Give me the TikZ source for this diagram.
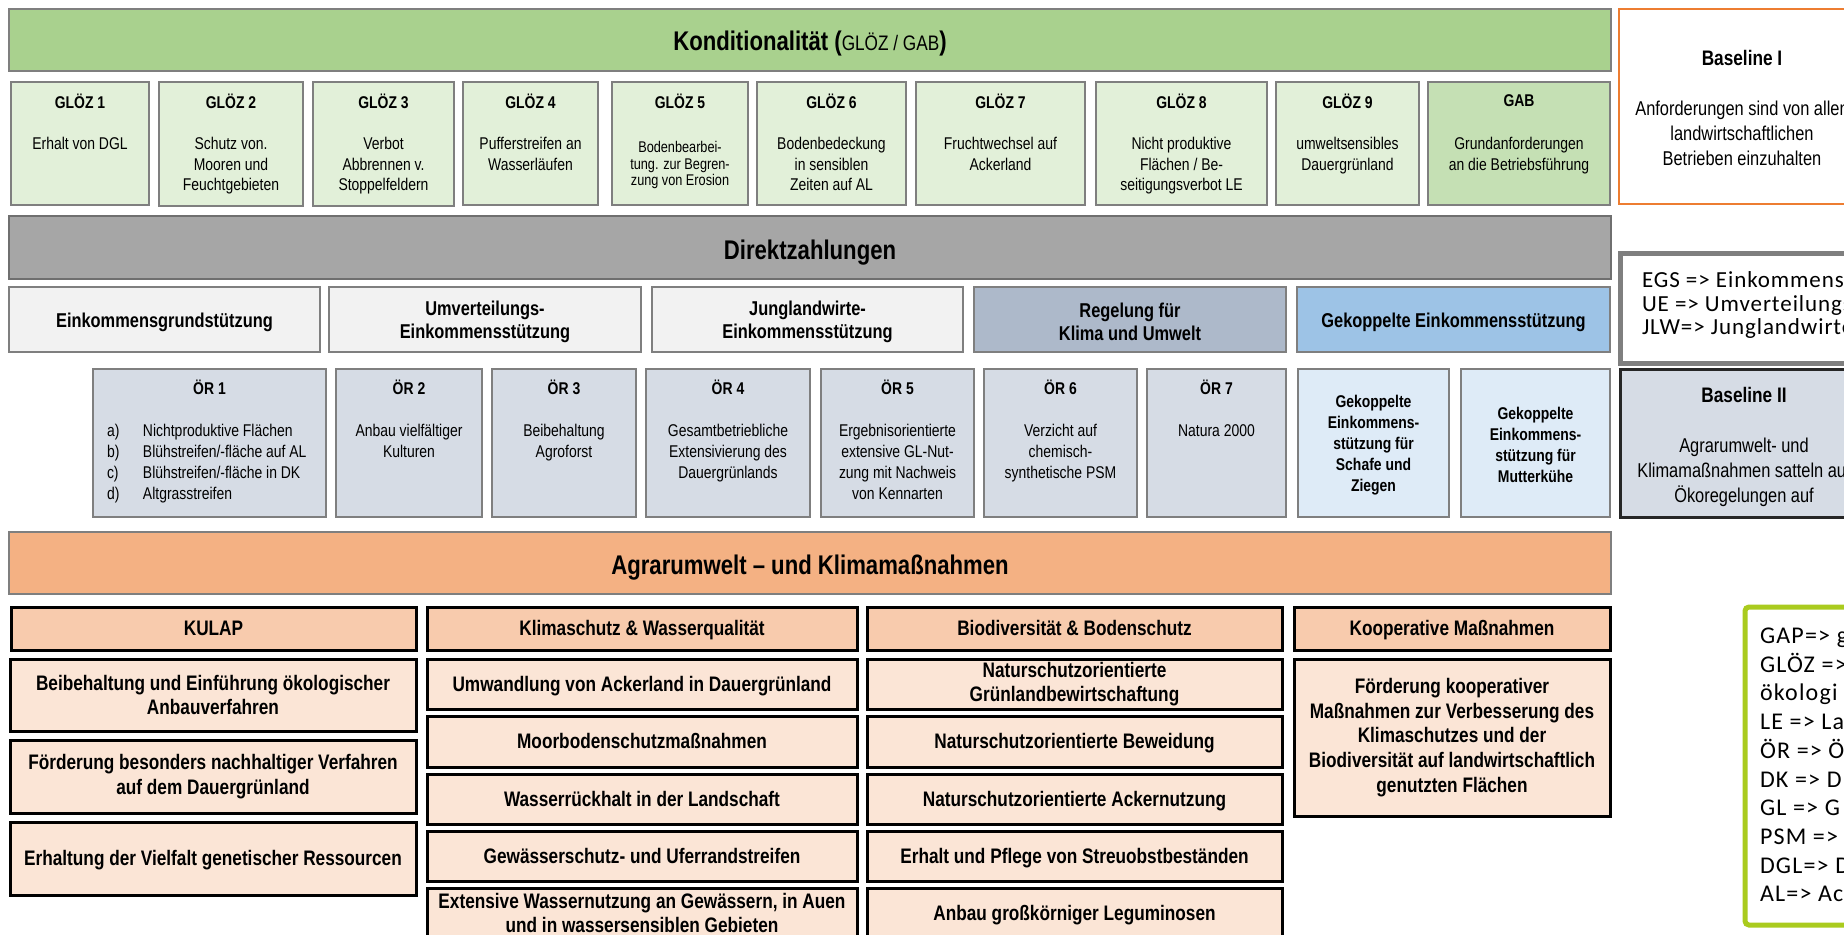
\documentclass[tikz,border=0pt]{standalone}
\usepackage{fontspec}
\setmainfont{Liberation Sans}[FakeStretch=0.82]
\newfontfamily\legfont{Carlito}[LetterSpace=4]
\newfontfamily\legfontB{Carlito}[LetterSpace=5]
\usetikzlibrary{fit}
\definecolor{cgray}{HTML}{7F7F7F}
\definecolor{cgraydark}{HTML}{6F6F6F}
\definecolor{ckond}{HTML}{A9D18E}
\definecolor{cgloz}{HTML}{E2F0D9}
\definecolor{cgab}{HTML}{C5E0B4}
\definecolor{cdz}{HTML}{A6A6A6}
\definecolor{clight}{HTML}{F2F2F2}
\definecolor{cklima}{HTML}{ADB9CA}
\definecolor{cgekrow}{HTML}{9DC3E6}
\definecolor{cor}{HTML}{D6DCE5}
\definecolor{cgek}{HTML}{DEEBF7}
\definecolor{cagrar}{HTML}{F4B183}
\definecolor{chead}{HTML}{F8CBAD}
\definecolor{citem}{HTML}{FBE5D6}
\definecolor{corange}{HTML}{ED7D31}
\definecolor{cdark}{HTML}{262626}
\definecolor{clime}{HTML}{AACB1E}
\newcommand\myBody{\fontsize{8.5}{10.4}\selectfont}
\newcommand\myBodyB{\bfseries\fontsize{8.5}{10.5}\selectfont}
\newcommand\mySmall{\fontsize{7.75}{8.2}\selectfont}
\newcommand\myBig{\bfseries\fontsize{13.5}{16}\selectfont}
\newcommand\myRow{\bfseries\fontsize{10}{11.5}\selectfont}
\newcommand\myAu{\bfseries\fontsize{10.5}{12.3}\selectfont}
\newcommand\myBase{\fontsize{10}{12.5}\selectfont}
\newcommand\myBaseT{\bfseries\fontsize{10.5}{12}\selectfont}
\newcommand\myLeg{\legfont\fontsize{11.5}{11.75}\selectfont}
\newcommand\myLegB{\legfontB\fontsize{12}{14.35}\selectfont}
\newcommand\bx[6]{\node[#1, fit={(#3,#4)(#5,#6)}] (#2) {};}
\begin{document}
\begin{tikzpicture}[x=0.5pt,y=-0.5pt,
  bar/.style={rectangle, inner sep=0pt, outer sep=0pt, draw=cgray, line width=1.25pt},
  kondbar/.style={bar, fill=ckond},
  glbox/.style={bar, fill=cgloz},
  gabbox/.style={bar, fill=cgab},
  dzbar/.style={bar, fill=cdz, draw=cgraydark},
  lightbox/.style={bar, fill=clight},
  klimabox/.style={bar, fill=cklima},
  gekrow/.style={bar, fill=cgekrow},
  orbox/.style={bar, fill=cor},
  gekbox/.style={bar, fill=cgek},
  agbar/.style={bar, fill=cagrar},
  hdbox/.style={bar, draw=black, line width=1.5pt, fill=chead},
  itbox/.style={bar, draw=black, line width=1.5pt, fill=citem},
  baseIbox/.style={bar, draw=corange, line width=1.25pt, fill=white},
  egsbox/.style={bar, draw=cgray, line width=2.5pt, fill=white},
  baseIIbox/.style={bar, draw=cdark, line width=1.5pt, fill=cor},
  legbox/.style={bar, draw=clime, line width=2.5pt, fill=white, rounded corners=2pt},
  txt/.style={inner sep=0pt, outer sep=0pt, align=center, text=black},
  one/.style={text height=7.9pt, text depth=0.5pt},
  title/.style={txt, font=\myBodyB},
  body/.style={txt, anchor=north, font=\myBody}
]
\useasboundingbox (0,0) rectangle (1844,934);
\clip (0,0) rectangle (1844,934);
\fill[white] (0,0) rectangle (1844,934);

% ---------------- Konditionalitaet ----------------
\bx{kondbar}{kond}{9}{9}{1611}{71}
\node[txt, font=\myBig] (kondt) at (810,44) {Konditionalität ({\mdseries\fontsize{10.5}{12}\selectfont GLÖZ / GAB})};

\bx{glbox}{g1}{11}{82}{149}{205}
\bx{glbox}{g2}{159}{82}{303}{206}
\bx{glbox}{g3}{313}{82}{454}{206}
\bx{glbox}{g4}{463}{82}{598}{205}
\bx{glbox}{g5}{612}{82}{748}{205}
\bx{glbox}{g6}{757}{82}{906}{205}
\bx{glbox}{g7}{916}{82}{1085}{205}
\bx{glbox}{g8}{1096}{82}{1267}{205}
\bx{glbox}{g9}{1276}{82}{1419}{205}
\bx{gabbox}{gab}{1428}{82}{1610}{205}

\node[title] (g1t) at (80,101) {GLÖZ 1};
\node[title] (g2t) at (231,101) {GLÖZ 2};
\node[title] (g3t) at (383.5,101) {GLÖZ 3};
\node[title] (g4t) at (530.5,101) {GLÖZ 4};
\node[title] (g5t) at (680,101) {GLÖZ 5};
\node[title] (g6t) at (831.5,101) {GLÖZ 6};
\node[title] (g7t) at (1000.5,101) {GLÖZ 7};
\node[title] (g8t) at (1181.5,101) {GLÖZ 8};
\node[title] (g9t) at (1347.5,101) {GLÖZ 9};
\node[title] (gabt) at (1519,101) {GAB};

\node[body] (g1b) at (80,137) {Erhalt von DGL};
\node[body] (g2b) at (231,137) {Schutz von.\\Mooren und\\Feuchtgebieten};
\node[body] (g3b) at (383.5,137) {Verbot\\Abbrennen v.\\Stoppelfeldern};
\node[body] (g4b) at (530.5,137) {Pufferstreifen an\\Wasserläufen};
\node[body, font=\mySmall] (g5b) at (680,141.5) {Bodenbearbei-\\tung. zur Begren-\\zung von Erosion};
\node[body] (g6b) at (831.5,137) {Bodenbedeckung\\in sensiblen\\Zeiten auf AL};
\node[body] (g7b) at (1000.5,137) {Fruchtwechsel auf\\Ackerland};
\node[body] (g8b) at (1181.5,137) {Nicht produktive\\Flächen / Be-\\seitigungsverbot LE};
\node[body] (g9b) at (1347.5,137) {umweltsensibles\\Dauergrünland};
\node[body] (gabb) at (1519,137) {Grundanforderungen\\an die Betriebsführung};

\bx{baseIbox}{base1}{1619}{9}{1866}{204}
\node[txt, font=\myBaseT] (base1t) at (1742,58) {Baseline I};
\node[txt, anchor=north, font=\myBase] (base1b) at (1742,100.5) {Anforderungen sind von allen\\landwirtschaftlichen\\Betrieben einzuhalten};

% ---------------- Direktzahlungen ----------------
\bx{dzbar}{dz}{9}{216}{1611}{279}
\node[txt, font=\myBig] (dzt) at (810,252.5) {Direktzahlungen};

\bx{lightbox}{egs}{9}{287}{320}{352}
\bx{lightbox}{ue}{329}{287}{641}{352}
\bx{lightbox}{jlw}{652}{287}{963}{352}
\bx{klimabox}{rku}{974}{287}{1286}{352}
\bx{gekrow}{gek}{1297}{287}{1610}{352}
\node[txt, font=\myRow] (egst) at (164.5,322) {Einkommensgrundstützung};
\node[txt, font=\myRow] (uet) at (485,322) {Umverteilungs-\\Einkommensstützung};
\node[txt, font=\myRow] (jlwt) at (807.5,322) {Junglandwirte-\\Einkommensstützung};
\node[txt, font=\myRow] (rkut) at (1130,322) {Regelung für\\Klima und Umwelt};
\node[txt, font=\myRow] (gekt) at (1453.5,322.5) {Gekoppelte Einkommensstützung};

\bx{egsbox}{abk1}{1620}{253}{1870}{363}
\node[txt, anchor=north west, align=left, font=\myLeg] (abk1t) at (1642,272) {EGS => Einkommens\\UE => Umverteilungs\\JLW=> Junglandwirte};

% ---------------- Oekoregelungen ----------------
\bx{orbox}{or1}{93}{369}{326}{517}
\bx{orbox}{or2}{336}{369}{482}{517}
\bx{orbox}{or3}{492}{369}{636}{517}
\bx{orbox}{or4}{646}{369}{810}{517}
\bx{orbox}{or5}{821}{369}{974}{517}
\bx{orbox}{or6}{984}{369}{1137}{517}
\bx{orbox}{or7}{1147}{369}{1286}{517}
\bx{gekbox}{gk1}{1298}{369}{1449}{517}
\bx{gekbox}{gk2}{1461}{369}{1610}{517}

\node[title] (or1t) at (209.5,387) {ÖR 1};
\node[title] (or2t) at (409,387) {ÖR 2};
\node[title] (or3t) at (564,387) {ÖR 3};
\node[title] (or4t) at (728,387) {ÖR 4};
\node[title] (or5t) at (897.5,387) {ÖR 5};
\node[title] (or6t) at (1060.5,387) {ÖR 6};
\node[title] (or7t) at (1216.5,387) {ÖR 7};

\node[body, anchor=north west, align=left] (or1b) at (107,424.5) {\makebox[18pt][l]{a)}Nichtproduktive Flächen\\\makebox[18pt][l]{b)}Blühstreifen/-fläche auf AL\\\makebox[18pt][l]{c)}Blühstreifen/-fläche in DK\\\makebox[18pt][l]{d)}Altgrasstreifen};
\node[body] (or2b) at (409,424.5) {Anbau vielfältiger\\Kulturen};
\node[body] (or3b) at (564,424.5) {Beibehaltung\\Agroforst};
\node[body] (or4b) at (728,424.5) {Gesamtbetriebliche\\Extensivierung des\\Dauergrünlands};
\node[body] (or5b) at (897.5,424.5) {Ergebnisorientierte\\extensive GL-Nut-\\zung mit Nachweis\\von Kennarten};
\node[body] (or6b) at (1060.5,424.5) {Verzicht auf\\chemisch-\\synthetische PSM};
\node[body] (or7b) at (1216.5,424.5) {Natura 2000};
\node[txt, font=\myBodyB] (gk1t) at (1373.5,445) {Gekoppelte\\Einkommens-\\stützung für\\Schafe und\\Ziegen};
\node[txt, font=\myBodyB] (gk2t) at (1535.5,445) {Gekoppelte\\Einkommens-\\stützung für\\Mutterkühe};

\bx{baseIIbox}{base2}{1620}{369}{1870}{517}
\node[txt, font=\myBaseT] (base2t) at (1744,395) {Baseline II};
\node[txt, anchor=north, font=\myBase] (base2b) at (1744,437.5) {Agrarumwelt- und\\Klimamaßnahmen satteln auf\\Ökoregelungen auf};

% ---------------- AUKM ----------------
\bx{agbar}{ag}{9}{532}{1611}{594}
\node[txt, font=\myBig] (agt) at (810,567.5) {Agrarumwelt – und Klimamaßnahmen};

\bx{hdbox}{hk}{11}{607}{416}{650}
\bx{hdbox}{hw}{427}{607}{857}{650}
\bx{hdbox}{hb}{867}{607}{1282}{650}
\bx{hdbox}{hc}{1294}{607}{1610}{650}
\node[txt, one, font=\myAu] (hkt) at (hk) {KULAP};
\node[txt, one, font=\myAu] (hwt) at (hw) {Klimaschutz \& Wasserqualität};
\node[txt, one, font=\myAu] (hbt) at (hb) {Biodiversität \& Bodenschutz};
\node[txt, one, font=\myAu] (hct) at (hc) {Kooperative Maßnahmen};

\bx{itbox}{k1}{10}{659}{416}{731}
\bx{itbox}{k2}{10}{740}{416}{813}
\bx{itbox}{k3}{10}{822}{416}{895}
\node[txt, font=\myAu] (k1t) at (k1) {Beibehaltung und Einführung ökologischer\\Anbauverfahren};
\node[txt, font=\myAu] (k2t) at (k2) {Förderung besonders nachhaltiger Verfahren\\auf dem Dauergrünland};
\node[txt, one, font=\myAu] (k3t) at (k3) {Erhaltung der Vielfalt genetischer Ressourcen};

\bx{itbox}{w1}{427}{659}{857}{709}
\bx{itbox}{w2}{427}{716}{857}{767}
\bx{itbox}{w3}{427}{774}{857}{824}
\bx{itbox}{w4}{427}{831}{857}{881}
\bx{itbox}{w5}{427}{888}{857}{945}
\node[txt, one, font=\myAu] (w1t) at (w1) {Umwandlung von Ackerland in Dauergrünland};
\node[txt, one, font=\myAu] (w2t) at (w2) {Moorbodenschutzmaßnahmen};
\node[txt, one, font=\myAu] (w3t) at (w3) {Wasserrückhalt in der Landschaft};
\node[txt, one, font=\myAu] (w4t) at (w4) {Gewässerschutz- und Uferrandstreifen};
\node[txt, font=\myAu] (w5t) at (642,913) {Extensive Wassernutzung an Gewässern, in Auen\\und in wassersensiblen Gebieten};

\bx{itbox}{b1}{867}{659}{1282}{709}
\bx{itbox}{b2}{867}{716}{1282}{767}
\bx{itbox}{b3}{867}{774}{1282}{824}
\bx{itbox}{b4}{867}{831}{1282}{881}
\bx{itbox}{b5}{867}{888}{1282}{945}
\node[txt, font=\myAu] (b1t) at (b1) {Naturschutzorientierte\\Grünlandbewirtschaftung};
\node[txt, one, font=\myAu] (b2t) at (b2) {Naturschutzorientierte Beweidung};
\node[txt, one, font=\myAu] (b3t) at (b3) {Naturschutzorientierte Ackernutzung};
\node[txt, one, font=\myAu] (b4t) at (b4) {Erhalt und Pflege von Streuobstbeständen};
\node[txt, one, font=\myAu] (b5t) at (1074.5,913) {Anbau großkörniger Leguminosen};

\bx{itbox}{c1}{1294}{659}{1610}{816}
\node[txt, font=\myAu] (c1t) at (c1) {Förderung kooperativer\\Maßnahmen zur Verbesserung des\\Klimaschutzes und der\\Biodiversität auf landwirtschaftlich\\genutzten Flächen};

% ---------------- Abkuerzungen ----------------
\bx{legbox}{abk2}{1745}{607}{1870}{925}
\node[txt, anchor=north west, align=left, font=\myLegB] (abk2t) at (1760,628) {GAP=> g\\GLÖZ =>\\ökologi\\LE => La\\ÖR => Ö\\DK => D\\GL => G\\PSM =>\\DGL=> D\\AL=> Ac};
\end{tikzpicture}
\end{document}
